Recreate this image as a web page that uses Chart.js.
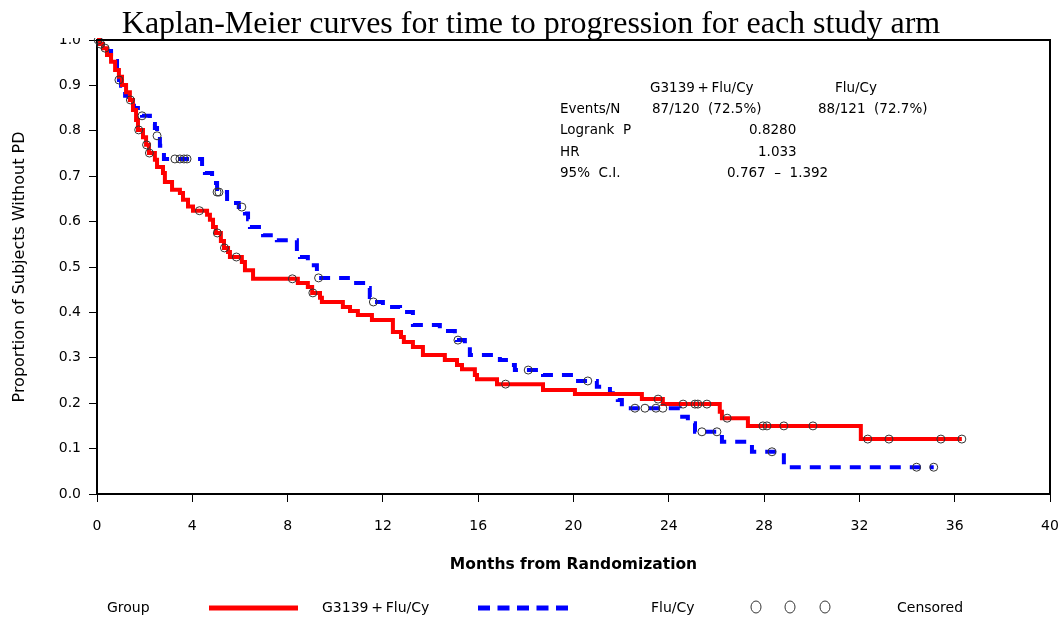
<!DOCTYPE html>
<html>
<head>
<meta charset="utf-8">
<title>Kaplan-Meier curves</title>
<script src="https://cdn.jsdelivr.net/npm/chart.js@4/dist/chart.umd.min.js"></script>
<style>
  html, body { margin: 0; padding: 0; background: #fff; }
  #wrap { width: 1061px; height: 618px; }
</style>
</head>
<body>
<div id="wrap"><canvas id="km" width="1061" height="618"></canvas></div>
<script>
// G3139 + Flu/Cy arm: event times (months) and survival after each drop
const redTimes = [0, 0.13, 0.25, 0.42, 0.59, 0.76, 0.92, 1.05, 1.22, 1.38, 1.51, 1.64, 1.72, 1.93, 2.06, 2.18,
  2.43, 2.52, 2.77, 2.85, 3.15, 3.48, 3.61, 3.82, 4.03, 4.62, 4.74, 4.87, 4.99, 5.20, 5.33, 5.50, 5.58,
  6.08, 6.21, 6.55, 8.43, 8.85, 9.03, 9.36, 9.44, 10.32, 10.62, 10.95, 11.54, 12.42, 12.76, 12.88, 13.26,
  13.68, 14.60, 15.11, 15.32, 15.86, 15.95, 16.79, 18.72, 20.06, 22.87, 23.75, 26.14, 26.23, 27.32, 32.06, 36.30];
const redSurv = [1.000, 0.991, 0.982, 0.967, 0.952, 0.934, 0.919, 0.901, 0.885, 0.868, 0.846, 0.824, 0.802, 0.786, 0.769, 0.751,
  0.736, 0.720, 0.707, 0.687, 0.670, 0.663, 0.648, 0.633, 0.624, 0.615, 0.604, 0.588, 0.575, 0.557, 0.542, 0.533, 0.522,
  0.511, 0.493, 0.474, 0.465, 0.456, 0.443, 0.432, 0.423, 0.412, 0.403, 0.394, 0.383, 0.357, 0.346, 0.335, 0.324,
  0.306, 0.295, 0.284, 0.275, 0.262, 0.253, 0.242, 0.229, 0.220, 0.209, 0.198, 0.181, 0.167, 0.150, 0.121, 0.121];
const redCensored = [0.05, 1.40, 1.75, 2.08, 2.20, 4.30, 5.05, 5.35, 5.85, 8.20, 9.06, 17.15, 23.55, 24.60, 25.10,
  25.22, 25.60, 26.45, 27.95, 28.12, 28.83, 30.05, 32.35, 33.24, 35.42, 36.30];

// Flu/Cy arm
const blueTimes = [0, 0.13, 0.25, 0.42, 0.59, 0.71, 0.84, 0.92, 1.01, 1.18, 1.34, 1.55, 1.89, 2.22, 2.43, 2.52,
  2.64, 2.81, 4.41, 4.53, 4.83, 5.04, 5.46, 5.95, 6.21, 6.34, 6.42, 6.97, 7.55, 8.39, 8.52, 8.85, 9.23, 9.28,
  10.53, 11.33, 11.45, 11.55, 12.00, 12.72, 13.26, 14.39, 15.02, 15.11, 15.44, 15.65, 16.91, 17.33, 17.54, 18.72,
  20.06, 20.98, 21.53, 21.86, 22.03, 24.46, 24.80, 25.10, 26.23, 27.49, 28.83, 35.12];
const blueSurv = [1.000, 0.991, 0.982, 0.976, 0.965, 0.954, 0.925, 0.912, 0.899, 0.877, 0.855, 0.850, 0.833, 0.815, 0.806, 0.789,
  0.767, 0.738, 0.720, 0.707, 0.685, 0.665, 0.641, 0.632, 0.618, 0.605, 0.588, 0.570, 0.559, 0.533, 0.522, 0.504, 0.489, 0.476,
  0.465, 0.454, 0.434, 0.423, 0.412, 0.401, 0.372, 0.359, 0.350, 0.339, 0.324, 0.306, 0.295, 0.284, 0.273, 0.262,
  0.249, 0.236, 0.222, 0.207, 0.189, 0.170, 0.156, 0.137, 0.115, 0.093, 0.059, 0.059];
const blueCensored = [0.15, 0.34, 0.92, 1.89, 2.52, 3.27, 3.48, 3.65, 3.78, 5.04, 5.12, 6.08, 9.30, 11.60, 15.15,
  18.10, 20.60, 22.58, 23.00, 23.46, 23.75, 25.39, 26.02, 28.33, 34.40, 35.12];

const xTickValues = [0, 4, 8, 12, 16, 20, 24, 28, 32, 36, 40];

const armNames = ['G3139\u2009+\u2009Flu/Cy', 'Flu/Cy'];
const statsRows = [
  ['Events/N', '87/120  (72.5%)', '88/121  (72.7%)'],
  ['Logrank  P', '0.8280'],
  ['HR', '1.033'],
  ['95%  C.I.', '0.767  \u2013  1.392']
];

const RED = '#ff0000';
const BLUE = '#0000ff';
const SANS = '"DejaVu Sans", "Liberation Sans", sans-serif';

function stepPoints(times, surv) {
  return times.map((t, i) => ({ x: t, y: surv[i] }));
}

// survival level of the curve at time t (value of the last step at or before t)
function levelAt(times, surv, t) {
  let s = surv[0];
  for (let i = 0; i < times.length; i++) {
    if (times[i] <= t) s = surv[i];
  }
  return s;
}

function censorPoints(times, surv, cens) {
  return cens.map(t => ({ x: t, y: levelAt(times, surv, t) }));
}

function text(ctx, str, x, y, font, align) {
  ctx.font = font;
  ctx.textAlign = align || 'left';
  ctx.textBaseline = 'middle';
  ctx.fillStyle = '#000';
  ctx.fillText(str, x, y);
}

const decorations = {
  id: 'decorations',
  beforeDatasetsDraw(chart) {
    const { ctx, chartArea: a } = chart;
    ctx.save();
    ctx.strokeStyle = '#000';
    ctx.lineWidth = 2;
    ctx.beginPath();
    ctx.moveTo(a.left, a.top);
    ctx.lineTo(a.right, a.top);
    ctx.lineTo(a.right, a.bottom);
    ctx.stroke();
    ctx.restore();
  },
  afterDraw(chart) {
    const { ctx, chartArea: a } = chart;
    ctx.save();

    // title sits on a white box that hides the top of the axis
    ctx.fillStyle = '#fff';
    ctx.fillRect(40, 0, 1021, 38);
    ctx.font = '32px "Liberation Serif", "Times New Roman", serif';
    ctx.textAlign = 'center';
    ctx.textBaseline = 'alphabetic';
    ctx.fillStyle = '#000';
    ctx.fillText('Kaplan-Meier curves for time to progression for each study arm', 531, 33);
    ctx.strokeStyle = '#000';
    ctx.lineWidth = 2;
    ctx.beginPath();
    ctx.moveTo(a.left, a.top);
    ctx.lineTo(a.right, a.top);
    ctx.stroke();

    // summary statistics
    const f = '13.5px ' + SANS;
    text(ctx, armNames[0], 650, 88, f);
    text(ctx, armNames[1], 835, 88, f);
    const rowY = [109, 130, 152, 173];
    text(ctx, statsRows[0][0], 560, rowY[0], f);
    text(ctx, statsRows[0][1], 652, rowY[0], f);
    text(ctx, statsRows[0][2], 818, rowY[0], f);
    text(ctx, statsRows[1][0], 560, rowY[1], f);
    text(ctx, statsRows[1][1], 749, rowY[1], f);
    text(ctx, statsRows[2][0], 560, rowY[2], f);
    text(ctx, statsRows[2][1], 758, rowY[2], f);
    text(ctx, statsRows[3][0], 560, rowY[3], f);
    text(ctx, statsRows[3][1], 727, rowY[3], f);

    // axis titles
    text(ctx, 'Months from Randomization', (a.left + a.right) / 2, 565, 'bold 15.5px ' + SANS, 'center');
    ctx.save();
    ctx.translate(20, (a.top + a.bottom) / 2);
    ctx.rotate(-Math.PI / 2);
    text(ctx, 'Proportion of Subjects Without PD', 0, 0, '16px ' + SANS, 'center');
    ctx.restore();

    // legend
    const ly = 608;
    const lf = '14px ' + SANS;
    text(ctx, 'Group', 107, ly, lf);
    ctx.lineWidth = 5;
    ctx.strokeStyle = RED;
    ctx.beginPath();
    ctx.moveTo(209, ly);
    ctx.lineTo(298, ly);
    ctx.stroke();
    text(ctx, armNames[0], 322, ly, lf);
    ctx.strokeStyle = BLUE;
    ctx.setLineDash([12, 7.5]);
    ctx.beginPath();
    ctx.moveTo(478, ly);
    ctx.lineTo(568, ly);
    ctx.stroke();
    ctx.setLineDash([]);
    text(ctx, armNames[1], 651, ly, lf);
    ctx.lineWidth = 1;
    ctx.strokeStyle = '#333';
    [756, 790, 825].forEach(cx => {
      ctx.beginPath();
      ctx.ellipse(cx, ly - 1, 5, 6, 0, 0, Math.PI * 2);
      ctx.stroke();
    });
    text(ctx, 'Censored', 897, ly, lf);

    ctx.restore();
  }
};

Chart.defaults.font.family = SANS;
Chart.defaults.color = '#000';

new Chart(document.getElementById('km'), {
  type: 'line',
  data: {
    datasets: [
      {
        label: 'Censored ' + armNames[0],
        data: censorPoints(redTimes, redSurv, redCensored),
        showLine: false,
        pointRadius: 4,
        pointBorderWidth: 1,
        pointBorderColor: '#333',
        pointBackgroundColor: 'rgba(0,0,0,0)',
        order: 0
      },
      {
        label: 'Censored ' + armNames[1],
        data: censorPoints(blueTimes, blueSurv, blueCensored),
        showLine: false,
        pointRadius: 4,
        pointBorderWidth: 1,
        pointBorderColor: '#333',
        pointBackgroundColor: 'rgba(0,0,0,0)',
        order: 0
      },
      {
        label: armNames[0],
        data: stepPoints(redTimes, redSurv),
        stepped: 'before',
        borderColor: RED,
        borderWidth: 4,
        pointRadius: 0,
        fill: false,
        order: 1
      },
      {
        label: armNames[1],
        data: stepPoints(blueTimes, blueSurv),
        stepped: 'before',
        borderColor: BLUE,
        borderWidth: 4,
        borderDash: [11, 9],
        borderCapStyle: 'butt',
        pointRadius: 0,
        fill: false,
        order: 2
      }
    ]
  },
  options: {
    responsive: false,
    animation: false,
    events: [],
    clip: false,
    layout: { padding: { top: 40, right: 11, left: 0, bottom: 0 } },
    plugins: { legend: { display: false }, title: { display: false }, tooltip: { enabled: false } },
    scales: {
      x: {
        type: 'linear',
        min: 0,
        max: 40,
        afterFit: s => { s.height = 124; s.paddingLeft = 0; s.paddingRight = 0; },
        afterBuildTicks: s => { s.ticks = xTickValues.map(v => ({ value: v })); },
        ticks: { padding: 16, font: { size: 14 }, maxRotation: 0, callback: v => v },
        grid: { drawOnChartArea: false, tickLength: 8, color: '#000', lineWidth: 1 },
        border: { display: true, color: '#000', width: 2 }
      },
      y: {
        min: 0,
        max: 1,
        afterFit: s => { s.width = 97; s.paddingTop = 0; s.paddingBottom = 0; },
        ticks: { stepSize: 0.1, padding: 8, font: { size: 14 }, callback: v => v.toFixed(1) },
        grid: { drawOnChartArea: false, tickLength: 8, color: '#000', lineWidth: 1 },
        border: { display: true, color: '#000', width: 2 }
      }
    }
  },
  plugins: [decorations]
});
</script>
</body>
</html>
